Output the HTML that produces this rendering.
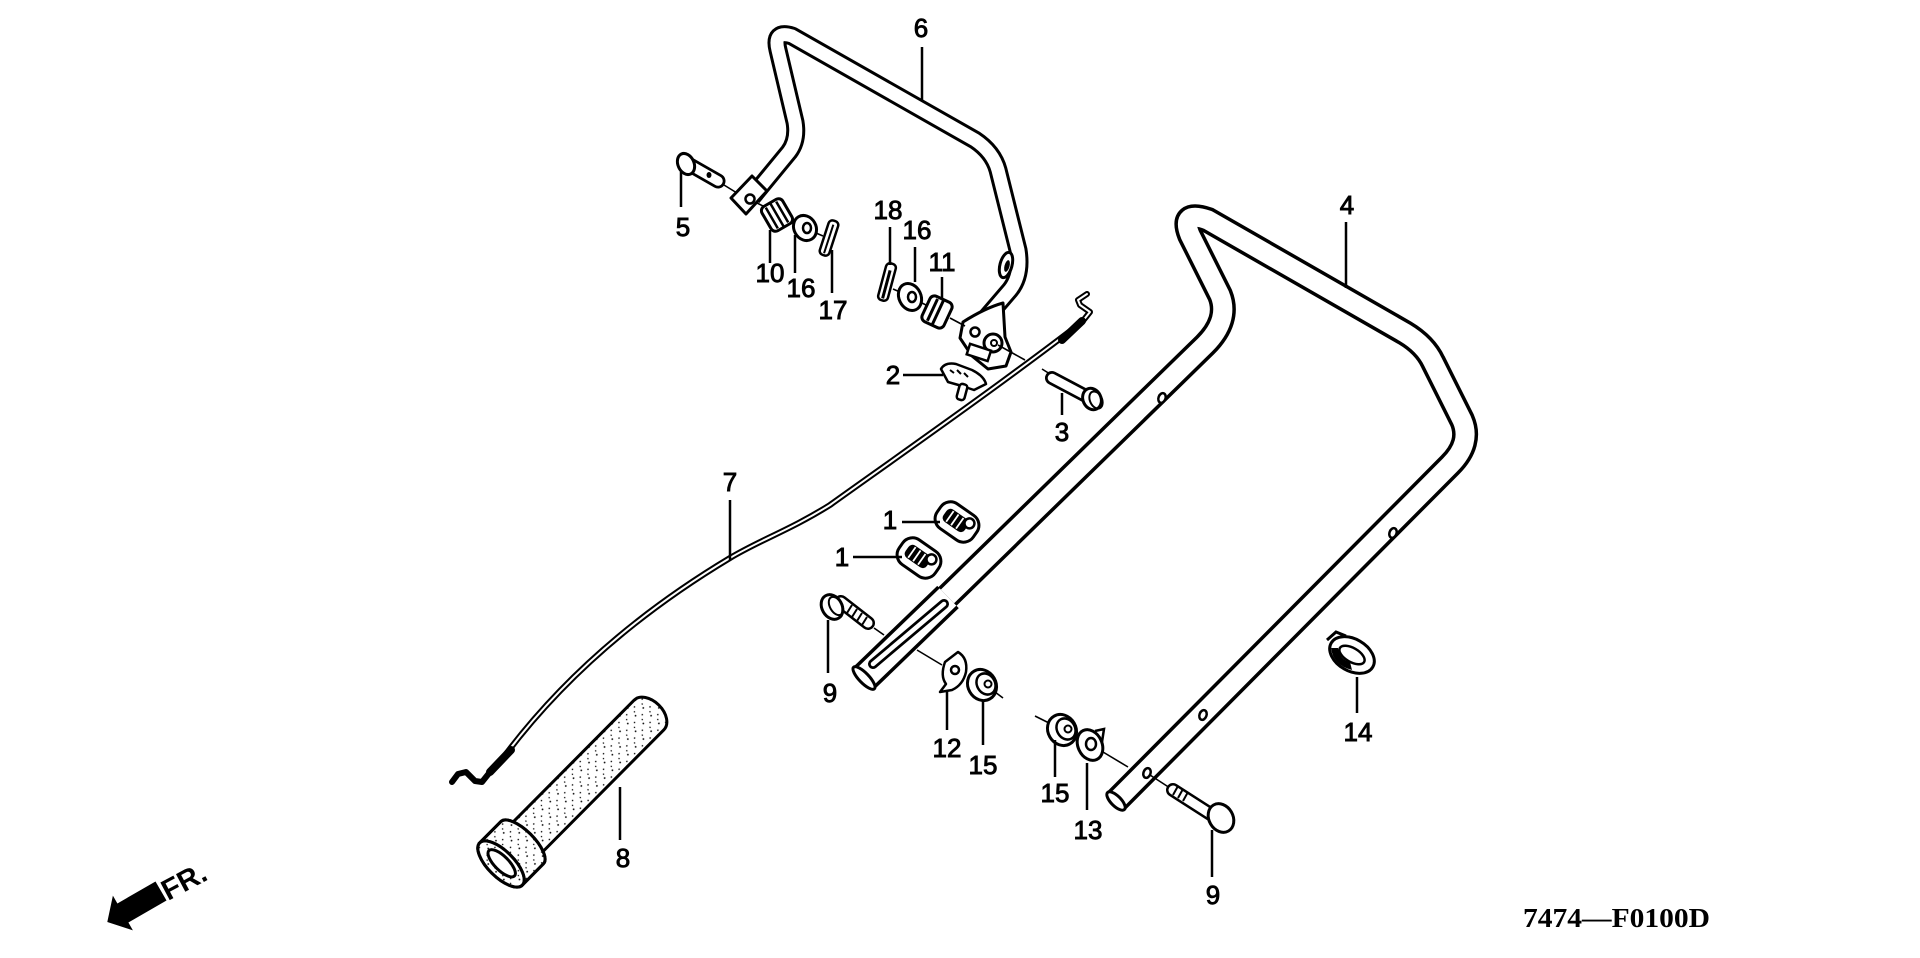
<!DOCTYPE html>
<html><head><meta charset="utf-8"><style>
html,body{margin:0;padding:0;background:#fff;}
svg{display:block}
.l{font-family:"Liberation Sans",Arial,sans-serif;font-size:26px;fill:#000;stroke:#000;stroke-width:0.9;text-anchor:middle}
</style></head><body>
<svg width="1920" height="958" viewBox="0 0 1920 958" xmlns="http://www.w3.org/2000/svg">
<defs>
<pattern id="dots" patternUnits="userSpaceOnUse" width="11" height="11">
<circle cx="2" cy="2" r="0.9" fill="#000"/>
<circle cx="7.5" cy="6" r="0.8" fill="#000"/>
<circle cx="4" cy="9.5" r="0.7" fill="#000"/>
</pattern>
</defs>
<rect width="1920" height="958" fill="#fff"/>

<!-- Handle 4 -->
<g fill="none" stroke-linejoin="round">
<path d="M868,674 L1205,345 Q1230,320 1220,295 L1190,235 Q1180,210 1208,220 L1405,333 Q1425,345 1433,362 L1462,420 Q1472,443 1450,465 L1115,802" stroke="#000" stroke-width="26"/>
<path d="M868,674 L1205,345 Q1230,320 1220,295 L1190,235 Q1180,210 1208,220 L1405,333 Q1425,345 1433,362 L1462,420 Q1472,443 1450,465 L1115,802" stroke="#fff" stroke-width="19"/>
<line x1="864" y1="678" x2="948" y2="597" stroke="#000" stroke-width="31"/>
<line x1="864" y1="678" x2="948" y2="597" stroke="#fff" stroke-width="24"/>
<line x1="873" y1="664" x2="944" y2="604" stroke="#000" stroke-width="10" stroke-linecap="round"/>
<line x1="873" y1="664" x2="944" y2="604" stroke="#fff" stroke-width="4.5" stroke-linecap="round"/>
</g>
<ellipse cx="864" cy="678" rx="5" ry="15" transform="rotate(-44 864 678)" fill="#fff" stroke="#000" stroke-width="3"/>
<ellipse cx="1116" cy="801" rx="5" ry="12" transform="rotate(-45 1116 801)" fill="#fff" stroke="#000" stroke-width="3"/>
<g fill="#fff" stroke="#000" stroke-width="2.5">
<ellipse cx="1162" cy="398" rx="3.5" ry="5" transform="rotate(20 1162 398)"/>
<ellipse cx="1393" cy="533" rx="3.5" ry="5" transform="rotate(20 1393 533)"/>
<ellipse cx="1203" cy="715" rx="3.5" ry="5" transform="rotate(20 1203 715)"/>
<ellipse cx="1147" cy="773" rx="3.5" ry="5" transform="rotate(20 1147 773)"/>
</g>

<!-- Handle 6 -->
<g fill="none" stroke-linejoin="round">
<path d="M752,197 L789,152 Q798,140 795,122 L778,50 Q773,30 792,36 L975,140 Q993,152 998,170 L1018,250 Q1022,275 1010,290 L980,325" stroke="#000" stroke-width="19"/>
<path d="M752,197 L789,152 Q798,140 795,122 L778,50 Q773,30 792,36 L975,140 Q993,152 998,170 L1018,250 Q1022,275 1010,290 L980,325" stroke="#fff" stroke-width="13"/>
</g>
<ellipse cx="1006" cy="265" rx="6" ry="13" transform="rotate(15 1006 265)" fill="#fff" stroke="#000" stroke-width="3"/>
<ellipse cx="1007" cy="266" rx="2.5" ry="6" transform="rotate(15 1007 266)" fill="#000"/>
<polygon points="731,198 752,176 767,191 746,214" fill="#fff" stroke="#000" stroke-width="3" stroke-linejoin="round"/>
<circle cx="750" cy="199" r="4.5" fill="#fff" stroke="#000" stroke-width="2.5"/>
<path d="M963,322 Q985,308 1003,303 L1005,337 L1011,352 L1006,366 L988,369 L972,356 L960,338 Z" fill="#fff" stroke="#000" stroke-width="3" stroke-linejoin="round"/>
<circle cx="975" cy="332" r="4.5" fill="#fff" stroke="#000" stroke-width="2.5"/>
<circle cx="993" cy="343" r="9" fill="#fff" stroke="#000" stroke-width="3"/>
<circle cx="994" cy="343" r="3" fill="none" stroke="#000" stroke-width="2"/>
<rect x="968" y="347" width="22" height="11" transform="rotate(18 979 352)" fill="#fff" stroke="#000" stroke-width="2.5"/>

<!-- Cable 7 -->
<g fill="none" stroke-linejoin="round" stroke-linecap="round">
<path d="M1082,322 C1000,385 900,455 830,505 C790,530 760,540 730,558 C640,612 560,680 500,762 L490,772 L482,782 L475,781 L466,772 L458,774 L452,782" stroke="#000" stroke-width="6"/>
<path d="M1082,322 C1000,385 900,455 830,505 C790,530 760,540 730,558 C640,612 560,680 500,762" stroke="#fff" stroke-width="2"/>
<path d="M1082,322 L1090,312 L1080,305 L1078,300 L1087,294" stroke="#000" stroke-width="6"/>
<path d="M1082,322 L1090,312 L1080,305 L1078,300 L1087,294" stroke="#fff" stroke-width="2"/>
<line x1="1062" y1="340" x2="1082" y2="321" stroke="#000" stroke-width="8"/>
<line x1="490" y1="772" x2="511" y2="750" stroke="#000" stroke-width="8"/>
</g>

<!-- Grip 8 -->
<g transform="translate(501,864) rotate(-45.2)">
<path d="M28,-21 L210,-21 A14,21 0 0 1 210,21 L28,21 Z" fill="url(#dots)" stroke="#000" stroke-width="3"/>
<path d="M0,-30 L30,-30 A12,30 0 0 1 30,30 L0,30 Z" fill="#fff" stroke="#000" stroke-width="3"/>
<path d="M0,-30 L30,-30 A12,30 0 0 1 30,30 L0,30 Z" fill="url(#dots)" stroke="#000" stroke-width="3"/>
<ellipse cx="0" cy="0" rx="13" ry="30" fill="#fff" stroke="#000" stroke-width="3"/>
<ellipse cx="0" cy="0" rx="13" ry="30" fill="url(#dots)" stroke="#000" stroke-width="3"/>
<ellipse cx="1" cy="0" rx="7" ry="18" fill="#fff" stroke="#000" stroke-width="3"/>
</g>

<!-- Bolt 5 and left group -->
<g stroke-linecap="round">
<line x1="690" y1="165" x2="718" y2="181" stroke="#000" stroke-width="15"/>
<line x1="690" y1="165" x2="718" y2="181" stroke="#fff" stroke-width="9.5"/>
</g>
<ellipse cx="686" cy="164" rx="8" ry="11" transform="rotate(-25 686 164)" fill="#fff" stroke="#000" stroke-width="3"/>
<ellipse cx="709" cy="175" rx="2.5" ry="3" fill="#000"/>
<g stroke="#000" stroke-width="1.6">
<line x1="724" y1="185" x2="737" y2="193"/>
<line x1="757" y1="203" x2="765" y2="207"/>
<line x1="790" y1="221" x2="795" y2="224"/>
<line x1="816" y1="233" x2="823" y2="236"/>
<line x1="893" y1="289" x2="900" y2="292"/>
<line x1="920" y1="302" x2="926" y2="305"/>
<line x1="950" y1="318" x2="965" y2="326"/>
<line x1="998" y1="345" x2="1025" y2="360"/>
<line x1="1042" y1="369" x2="1050" y2="374"/>
<line x1="874" y1="628" x2="884" y2="635"/>
<line x1="917" y1="650" x2="942" y2="665"/>
<line x1="995" y1="692" x2="1003" y2="698"/>
<line x1="1035" y1="716" x2="1049" y2="723"/>
<line x1="1103" y1="752" x2="1128" y2="767"/>
<line x1="1150" y1="775" x2="1170" y2="788"/>
</g>
<g transform="translate(777,215) rotate(-30)">
<rect x="-12" y="-14" width="24" height="28" rx="5" fill="#fff" stroke="#000" stroke-width="3"/>
<path d="M-6,-12 L-6,12 M0,-13 L0,13 M6,-12 L6,12" stroke="#000" stroke-width="2.5"/>
</g>
<ellipse cx="805" cy="228" rx="11" ry="13" transform="rotate(-30 805 228)" fill="#fff" stroke="#000" stroke-width="3"/>
<ellipse cx="807" cy="228" rx="4" ry="5" fill="#fff" stroke="#000" stroke-width="2.5"/>
<g transform="translate(829,238) rotate(18)">
<rect x="-5" y="-18" width="10" height="36" rx="4" fill="#fff" stroke="#000" stroke-width="2.5"/>
<line x1="0" y1="-14" x2="0" y2="16" stroke="#000" stroke-width="2"/>
</g>
<g transform="translate(887,282) rotate(15)">
<rect x="-5" y="-19" width="10" height="38" rx="4" fill="#fff" stroke="#000" stroke-width="2.5"/>
<line x1="0" y1="-12" x2="0" y2="17" stroke="#000" stroke-width="3"/>
</g>
<ellipse cx="910" cy="297" rx="11" ry="14" transform="rotate(-25 910 297)" fill="#fff" stroke="#000" stroke-width="3"/>
<ellipse cx="912" cy="297" rx="4" ry="5" fill="#fff" stroke="#000" stroke-width="2.5"/>
<g transform="translate(937,312) rotate(25)">
<rect x="-12" y="-14" width="24" height="28" rx="5" fill="#fff" stroke="#000" stroke-width="3"/>
<path d="M-5,-12 L-5,12 M1,-13 L1,13" stroke="#000" stroke-width="3"/>
</g>
<path d="M941,369 Q945,362 956,364 L972,370 Q984,376 986,384 L974,390 L962,386 L948,382 Z" fill="#fff" stroke="#000" stroke-width="2.5" stroke-linejoin="round"/>
<path d="M950,370 L954,373 M957,370 L961,374 M964,373 L968,377" stroke="#000" stroke-width="2"/>
<rect x="958" y="384" width="8" height="16" rx="3" transform="rotate(15 962 392)" fill="#fff" stroke="#000" stroke-width="2.5"/>
<g stroke-linecap="round">
<line x1="1052" y1="378" x2="1086" y2="396" stroke="#000" stroke-width="14"/>
<line x1="1052" y1="378" x2="1086" y2="396" stroke="#fff" stroke-width="8.5"/>
</g>
<ellipse cx="1092" cy="399" rx="9" ry="11" transform="rotate(-25 1092 399)" fill="#fff" stroke="#000" stroke-width="3"/>
<ellipse cx="1096" cy="400" rx="6" ry="9" transform="rotate(-25 1096 400)" fill="none" stroke="#000" stroke-width="2"/>

<g transform="translate(957,522) rotate(35)">
<rect x="-22" y="-15" width="44" height="30" rx="12" fill="#fff" stroke="#000" stroke-width="3"/>
<rect x="-15" y="-8" width="26" height="15" rx="5" fill="#000"/>
<path d="M-9,-7 L-9,6 M-3,-7 L-3,6 M3,-7 L3,6" stroke="#fff" stroke-width="1.8"/>
<circle cx="11" cy="-6" r="5" fill="#fff" stroke="#000" stroke-width="2.5"/>
</g>
<g transform="translate(919,558) rotate(35)">
<rect x="-22" y="-15" width="44" height="30" rx="12" fill="#fff" stroke="#000" stroke-width="3"/>
<rect x="-15" y="-8" width="26" height="15" rx="5" fill="#000"/>
<path d="M-9,-7 L-9,6 M-3,-7 L-3,6 M3,-7 L3,6" stroke="#fff" stroke-width="1.8"/>
<circle cx="11" cy="-6" r="5" fill="#fff" stroke="#000" stroke-width="2.5"/>
</g>

<g stroke-linecap="round">
<line x1="841" y1="602" x2="868" y2="623" stroke="#000" stroke-width="14"/>
<line x1="841" y1="602" x2="868" y2="623" stroke="#fff" stroke-width="9"/>
</g>
<path d="M852,605 L847,613 M857,609 L852,617 M862,613 L857,621 M867,617 L862,625" stroke="#000" stroke-width="2"/>
<ellipse cx="832" cy="607" rx="10" ry="13" transform="rotate(-30 832 607)" fill="#fff" stroke="#000" stroke-width="3"/>
<ellipse cx="836" cy="606" rx="6" ry="10" transform="rotate(-30 836 606)" fill="none" stroke="#000" stroke-width="2"/>
<path d="M945,662 L958,652 Q968,658 966,672 Q963,685 952,690 L940,692 L946,684 Q940,676 945,662 Z" fill="#fff" stroke="#000" stroke-width="2.5" stroke-linejoin="round"/>
<circle cx="955" cy="670" r="4" fill="#fff" stroke="#000" stroke-width="2.5"/>
<ellipse cx="982" cy="685" rx="14" ry="16" transform="rotate(-30 982 685)" fill="#fff" stroke="#000" stroke-width="3"/>
<ellipse cx="986" cy="684" rx="9" ry="11" transform="rotate(-30 986 684)" fill="#fff" stroke="#000" stroke-width="2.5"/>
<circle cx="988" cy="684" r="3.5" fill="none" stroke="#000" stroke-width="2"/>
<ellipse cx="1062" cy="730" rx="14" ry="16" transform="rotate(-30 1062 730)" fill="#fff" stroke="#000" stroke-width="3"/>
<ellipse cx="1066" cy="729" rx="9" ry="11" transform="rotate(-30 1066 729)" fill="#fff" stroke="#000" stroke-width="2.5"/>
<circle cx="1068" cy="729" r="3.5" fill="none" stroke="#000" stroke-width="2"/>
<ellipse cx="1090" cy="745" rx="12" ry="16" transform="rotate(-25 1090 745)" fill="#fff" stroke="#000" stroke-width="3"/>
<path d="M1095,731 L1104,729 L1102,742" fill="none" stroke="#000" stroke-width="2.5"/>
<ellipse cx="1091" cy="744" rx="5" ry="6" fill="#fff" stroke="#000" stroke-width="2.5"/>
<g stroke-linecap="round">
<line x1="1173" y1="790" x2="1212" y2="815" stroke="#000" stroke-width="14"/>
<line x1="1173" y1="790" x2="1212" y2="815" stroke="#fff" stroke-width="9"/>
</g>
<path d="M1178,786 L1173,795 M1183,789 L1178,798 M1188,792 L1183,801" stroke="#000" stroke-width="2"/>
<ellipse cx="1221" cy="818" rx="12" ry="15" transform="rotate(-30 1221 818)" fill="#fff" stroke="#000" stroke-width="3"/>
<g transform="translate(1352,655) rotate(30)">
<ellipse rx="24" ry="16" fill="#fff" stroke="#000" stroke-width="3"/>
<ellipse rx="14" ry="7" fill="#fff" stroke="#000" stroke-width="2.5"/>
</g>
<path d="M1327,640 L1336,632 L1346,636" fill="none" stroke="#000" stroke-width="3"/>
<path d="M1331,648 Q1333,665 1352,670 L1350,662 Q1340,660 1338,648 Z" fill="#000"/>

<g stroke="#000" stroke-width="2.5">
<line x1="922" y1="47" x2="922" y2="100"/>
<line x1="681" y1="172" x2="681" y2="207"/>
<line x1="770" y1="230" x2="770" y2="263"/>
<line x1="795" y1="235" x2="795" y2="273"/>
<line x1="832" y1="250" x2="832" y2="293"/>
<line x1="890" y1="227" x2="890" y2="265"/>
<line x1="915" y1="247" x2="915" y2="282"/>
<line x1="942" y1="277" x2="942" y2="300"/>
<line x1="903" y1="375" x2="943" y2="375"/>
<line x1="1062" y1="393" x2="1062" y2="415"/>
<line x1="1346" y1="222" x2="1346" y2="288"/>
<line x1="902" y1="522" x2="940" y2="522"/>
<line x1="853" y1="557" x2="902" y2="557"/>
<line x1="828" y1="620" x2="828" y2="673"/>
<line x1="947" y1="690" x2="947" y2="730"/>
<line x1="983" y1="700" x2="983" y2="745"/>
<line x1="1055" y1="740" x2="1055" y2="777"/>
<line x1="1087" y1="763" x2="1087" y2="810"/>
<line x1="1357" y1="677" x2="1357" y2="713"/>
<line x1="1212" y1="830" x2="1212" y2="877"/>
<line x1="730" y1="500" x2="730" y2="560"/>
<line x1="620" y1="787" x2="620" y2="840"/>
</g>

<text class="l" x="921" y="37">6</text>
<text class="l" x="683" y="236">5</text>
<text class="l" x="770" y="282">10</text>
<text class="l" x="801" y="297">16</text>
<text class="l" x="833" y="319">17</text>
<text class="l" x="888" y="219">18</text>
<text class="l" x="917" y="239">16</text>
<text class="l" x="942" y="271">11</text>
<text class="l" x="893" y="384">2</text>
<text class="l" x="1062" y="441">3</text>
<text class="l" x="1347" y="214">4</text>
<text class="l" x="890" y="529">1</text>
<text class="l" x="842" y="566">1</text>
<text class="l" x="830" y="702">9</text>
<text class="l" x="947" y="757">12</text>
<text class="l" x="983" y="774">15</text>
<text class="l" x="1055" y="802">15</text>
<text class="l" x="1088" y="839">13</text>
<text class="l" x="1358" y="741">14</text>
<text class="l" x="1213" y="904">9</text>
<text class="l" x="730" y="491">7</text>
<text class="l" x="623" y="867">8</text>

<g transform="translate(161,891) rotate(150)">
<polygon points="0,-11 44,-11 44,-20 62,0 44,20 44,11 0,11" fill="#000"/>
</g>
<text transform="translate(168,901) rotate(-28)" font-family="Liberation Sans, Arial, sans-serif" font-weight="bold" font-size="29" fill="#000">FR.</text>

<text x="1523" y="927" textLength="187" lengthAdjust="spacingAndGlyphs" font-family="Liberation Serif, serif" font-weight="bold" font-size="27" fill="#000">7474—F0100D</text>
</svg>
</body></html>
